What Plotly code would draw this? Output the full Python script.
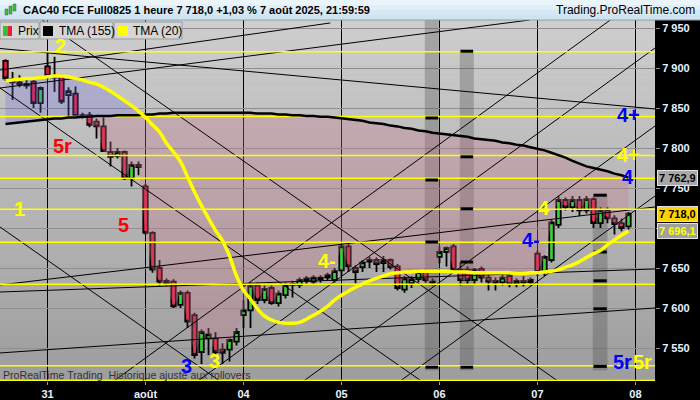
import plotly.graph_objects as go

# hourly bars; slot 0 = first bar of 31 July, 14 bars per session
slots = list(range(-6, 84))

opens = [7909, 7886, 7882, 7880, 7883, 7856,
         7902, 7890, 7890, 7866, 7868, 7841, 7841, 7833, 7827, 7795, 7790, 7795, 7762, 7779,
         7752, 7694, 7650, 7634, 7633, 7604, 7619, 7591, 7545, 7562, 7562, 7548, 7548, 7558,
         7591, 7597, 7628, 7610, 7625, 7606, 7616, 7629, 7629, 7634, 7633, 7636, 7638, 7635,
         7647, 7677, 7650, 7651, 7658, 7660, 7656, 7660, 7652, 7623, 7631, 7636, 7645, 7633,
         7664, 7670, 7677, 7648, 7648, 7635, 7649, 7638, 7634, 7632, 7640, 7630, 7634, 7632,
         7668, 7645, 7660, 7704, 7735, 7726, 7735, 7722, 7736, 7706, 7722, 7712, 7706, 7702]
highs = [7911, 7895, 7891, 7886, 7886, 7877,
         7920, 7914, 7892, 7876, 7877, 7844, 7845, 7837, 7840, 7808, 7800, 7797, 7783, 7783,
         7755, 7696, 7660, 7637, 7636, 7622, 7622, 7594, 7573, 7575, 7570, 7556, 7562, 7575,
         7610, 7632, 7632, 7628, 7628, 7622, 7632, 7634, 7638, 7640, 7641, 7641, 7644, 7650,
         7680, 7680, 7653, 7660, 7664, 7663, 7665, 7662, 7655, 7640, 7640, 7648, 7648, 7637,
         7677, 7677, 7680, 7657, 7652, 7650, 7652, 7642, 7638, 7642, 7643, 7637, 7640, 7638,
         7672, 7666, 7710, 7740, 7738, 7740, 7740, 7740, 7738, 7726, 7726, 7716, 7712, 7720]
lows = [7884, 7860, 7876, 7874, 7850, 7844,
        7886, 7870, 7855, 7839, 7839, 7837, 7826, 7812, 7795, 7777, 7787, 7760, 7752, 7766,
        7692, 7644, 7628, 7628, 7600, 7600, 7575, 7537, 7530, 7541, 7540, 7530, 7533, 7553,
        7575, 7575, 7605, 7606, 7604, 7602, 7612, 7613, 7625, 7630, 7630, 7632, 7634, 7632,
        7640, 7645, 7631, 7645, 7650, 7645, 7645, 7648, 7622, 7619, 7625, 7632, 7632, 7628,
        7656, 7652, 7645, 7628, 7630, 7630, 7632, 7622, 7622, 7628, 7626, 7626, 7627, 7628,
        7640, 7640, 7657, 7700, 7722, 7720, 7715, 7718, 7700, 7700, 7706, 7692, 7696, 7698]
closes = [7887, 7882, 7880, 7878, 7856, 7875,
          7890, 7888, 7858, 7871, 7840, 7839, 7829, 7827, 7796, 7789, 7795, 7762, 7779, 7776,
          7694, 7648, 7633, 7631, 7602, 7619, 7583, 7541, 7570, 7567, 7545, 7544, 7560, 7570,
          7597, 7628, 7610, 7624, 7606, 7618, 7629, 7630, 7635, 7637, 7638, 7638, 7641, 7646,
          7677, 7652, 7645, 7657, 7660, 7655, 7660, 7651, 7625, 7637, 7636, 7645, 7635, 7632,
          7670, 7675, 7648, 7635, 7635, 7648, 7638, 7633, 7632, 7638, 7630, 7634, 7632, 7635,
          7645, 7664, 7707, 7735, 7726, 7735, 7722, 7736, 7706, 7722, 7712, 7705, 7700, 7718]

tma155 = [7830, 7831, 7832, 7833, 7834, 7835,
          7836, 7837, 7837, 7838, 7838, 7839, 7839, 7840, 7840, 7840, 7841, 7841, 7841, 7841,
          7842, 7842, 7843, 7843, 7844, 7844, 7844, 7844, 7844, 7844, 7844, 7844, 7844, 7844,
          7844, 7844, 7843, 7843, 7843, 7842, 7842, 7841, 7841, 7840, 7840, 7839, 7839, 7838,
          7837, 7836, 7835, 7834, 7832, 7831, 7830, 7828, 7827, 7825, 7824, 7822, 7821, 7819,
          7818, 7817, 7816, 7815, 7814, 7812, 7811, 7810, 7809, 7807, 7806, 7804, 7803, 7801,
          7799, 7797, 7794, 7791, 7788, 7784, 7780, 7777, 7775, 7773, 7771, 7768, 7766, 7762.9]
tma20 = [7884, 7885, 7886, 7887, 7887, 7888,
         7889, 7890, 7890, 7889, 7887, 7885, 7882, 7880, 7876, 7871, 7865, 7859, 7853, 7846,
         7838, 7829, 7820, 7806, 7795, 7783, 7764, 7745, 7728, 7712, 7697, 7684, 7665, 7640,
         7622, 7611, 7599, 7590, 7585, 7582, 7581, 7581, 7582, 7586, 7591, 7596, 7602, 7610,
         7616, 7621, 7626, 7630, 7634, 7637, 7640, 7643, 7644, 7645, 7645, 7646, 7646, 7646,
         7646, 7646, 7645, 7645, 7645, 7644, 7644, 7644, 7644, 7644, 7644, 7643, 7643, 7644,
         7644, 7645, 7646, 7648, 7651, 7654, 7658, 7663, 7668, 7672, 7679, 7685, 7691, 7696.1]

day_ticks = [0, 14, 28, 42, 56, 70, 84]
day_labels = ["31", "août", "04", "05", "06", "07", "08"]
price_ticks = [7550, 7600, 7650, 7700, 7750, 7800, 7850, 7900, 7950]
price_labels = ["7 550", "7 600", "7 650", "7 700", "7 750", "7 800", "7 850", "7 900", "7 950"]

x_range = [-6.79, 86.79]
y_range = [7508.75, 7960]

# horizontal levels (yellow)
levels = [7920.4, 7839.4, 7790.6, 7762.1, 7723.4, 7682.1, 7629.6, 7527.9, 7509.5]

# trend lines: (slot0, price0, slot1, price1)
trend_lines = [
    (-6.79, 7924.4, 86.79, 7848.8),
    (-6.79, 7875.0, 68.9, 7960.0),
    (-6.79, 7897.5, 40.4, 7956.3),
    (-6.79, 7875.0, 53.4, 7508.8),
    (-0.79, 7960.0, 72.9, 7508.8),
    (-6.79, 7701.3, 24.6, 7508.8),
    (-6.79, 7620.0, 86.79, 7648.8),
    (-6.79, 7543.8, 86.79, 7600.0),
    (-6.79, 7628.8, 86.79, 7726.3),
    (9.5, 7508.8, 80.4, 7960.0),
    (21.5, 7508.8, 86.79, 7925.0),
    (36.6, 7508.8, 86.79, 7827.5),
    (50.4, 7508.8, 86.79, 7740.0),
]

# shaded columns with their black marks
band_left = [53.9, 58.9, 77.9]
band_right = [55.9, 60.9, 80.0]
band_top = [7960, 7922, 7741]
band_bottom = [7522, 7522, 7522]
band_marks = [[7837.5, 7760, 7682.5, 7526],
              [7921, 7789, 7724, 7657.5, 7526],
              [7741, 7670, 7634, 7599, 7527]]

# wave labels: text, slot, price, colour
wave_labels = [
    ("2", 1.9, 7927, "#ffff00"),
    ("5r", 2.1, 7802, "#ff0000"),
    ("1", -4.0, 7724, "#ffff00"),
    ("5", 10.9, 7704, "#ff0000"),
    ("3", 19.9, 7527, "#0000ff"),
    ("3", 23.9, 7534, "#ffff00"),
    ("4-", 39.9, 7659, "#ffff00"),
    ("4", 70.9, 7725, "#ffff00"),
    ("4-", 69.1, 7685, "#0000ff"),
    ("4+", 83.0, 7841, "#0000ff"),
    ("4+", 83.0, 7791, "#ffff00"),
    ("4", 83.0, 7764, "#0000ff"),
    ("5r", 82.1, 7532, "#0000ff"),
    ("5r", 85.0, 7532, "#ffff00"),
]

PW, PH = 655, 361


def px(x):
    return x / PW


def py(y):
    return (381 - y) / PH


fig = go.Figure()

# lavender zone while TMA(20) is above TMA(155)
cut = slots.index(13)
fig.add_trace(go.Scatter(x=slots[:cut + 1], y=tma155[:cut + 1], mode="lines",
                         line=dict(width=0), hoverinfo="skip", showlegend=False))
fig.add_trace(go.Scatter(x=slots[:cut + 1], y=tma20[:cut + 1], mode="lines",
                         line=dict(width=0), fill="tonexty",
                         fillcolor="rgba(110,110,220,0.28)", hoverinfo="skip", showlegend=False))
# pink zone while the close is under TMA(155)
start = slots.index(5)
fig.add_trace(go.Scatter(x=slots[start:], y=tma155[start:], mode="lines",
                         line=dict(width=0), hoverinfo="skip", showlegend=False))
fig.add_trace(go.Scatter(x=slots[start:], y=closes[start:], mode="lines",
                         line=dict(width=0), fill="tonexty",
                         fillcolor="rgba(200,120,140,0.32)", hoverinfo="skip", showlegend=False))

# trend lines
tx, ty = [], []
for s0, p0, s1, p1 in trend_lines:
    tx += [s0, s1, None]
    ty += [p0, p1, None]
fig.add_trace(go.Scatter(x=tx, y=ty, mode="lines", line=dict(color="black", width=1),
                         hoverinfo="skip", showlegend=False))

# yellow levels
lx, ly = [], []
for lv in levels:
    lx += [x_range[0], x_range[1], None]
    ly += [lv, lv, None]
fig.add_trace(go.Scatter(x=lx, y=ly, mode="lines", line=dict(color="#ffff00", width=1.5),
                         hoverinfo="skip", showlegend=False))

# band marks
mx, my = [], []
for b0, b1, marks in zip(band_left, band_right, band_marks):
    for m in marks:
        mx += [b0 + 0.1, b1 - 0.1, None]
        my += [m, m, None]
fig.add_trace(go.Scatter(x=mx, y=my, mode="lines", line=dict(color="black", width=3),
                         hoverinfo="skip", showlegend=False))

fig.add_trace(go.Candlestick(
    x=slots, open=opens, high=highs, low=lows, close=closes,
    increasing=dict(line=dict(color="black", width=1.8), fillcolor="#3ad23a"),
    decreasing=dict(line=dict(color="black", width=1.8), fillcolor="#f0183f"),
    whiskerwidth=0, showlegend=False, name="Prix"))

fig.add_trace(go.Scatter(x=slots, y=tma155, mode="lines", name="TMA (155)",
                         line=dict(color="black", width=2.5), showlegend=False))
fig.add_trace(go.Scatter(x=slots, y=tma20, mode="lines", name="TMA (20)",
                         line=dict(color="#ffff00", width=3.5, shape="spline"), showlegend=False))

shapes = []
# vertical gradient background
top_c, bot_c = (206, 206, 206), (158, 158, 158)
n = 40
for i in range(n):
    t = i / (n - 1)
    c = tuple(int(top_c[k] + (bot_c[k] - top_c[k]) * t) for k in range(3))
    shapes.append(dict(type="rect", xref="paper", yref="paper", x0=0, x1=1,
                       y0=1 - (i + 1) / n, y1=1 - i / n, line=dict(width=0),
                       fillcolor="rgb(%d,%d,%d)" % c, layer="below"))
for b0, b1, bt, bb in zip(band_left, band_right, band_top, band_bottom):
    shapes.append(dict(type="rect", xref="x", yref="y", x0=b0, x1=b1, y0=bb, y1=bt,
                       line=dict(width=0), fillcolor="rgba(60,60,60,0.28)", layer="between"))

# title bar
for i, col in enumerate(["#eaf4fb", "#e0eef8", "#d6e8f4", "#cfe3f1"]):
    shapes.append(dict(type="rect", xref="paper", yref="paper", x0=0, x1=700 / PW,
                       y0=py(5 * (i + 1)), y1=py(5 * i), line=dict(width=0), fillcolor=col))
shapes.append(dict(type="line", xref="paper", yref="paper", x0=0, x1=700 / PW,
                   y0=py(20), y1=py(20), line=dict(color="#8aa0b4", width=1)))
# title icon
for x0, y0, y1 in [(5, 9, 15), (9, 6, 14), (13, 4, 11)]:
    shapes.append(dict(type="rect", xref="paper", yref="paper", x0=px(x0), x1=px(x0 + 3),
                       y0=py(y1), y1=py(y0), line=dict(color="#3a6a3a", width=0.5),
                       fillcolor="#3cc03c"))

# legend boxes
for x0, x1 in [(0, 39), (40, 113), (114, 182)]:
    shapes.append(dict(type="rect", xref="paper", yref="paper", x0=px(x0), x1=px(x1),
                       y0=py(39), y1=py(22), line=dict(color="#9a9a9a", width=1),
                       fillcolor="#d6d6d6"))
for x0, x1, col in [(3, 7.5, "#33c033"), (7.5, 12, "#f0183f"), (43, 53, "black"), (118, 128, "#ffff00")]:
    shapes.append(dict(type="rect", xref="paper", yref="paper", x0=px(x0), x1=px(x1),
                       y0=py(36), y1=py(26), line=dict(width=0), fillcolor=col))

annotations = []
for txt, s, p, col in wave_labels:
    annotations.append(dict(x=s, y=p, xref="x", yref="y", text="<b>%s</b>" % txt,
                            showarrow=False, font=dict(size=20, color=col,
                                                       family="Liberation Sans, Arial")))

title_font = dict(family="Liberation Sans, Arial", size=12, color="black")
annotations += [
    dict(x=px(21), y=py(10), xref="paper", yref="paper", xanchor="left", yanchor="middle",
         showarrow=False, font=dict(family="Liberation Sans, Arial", size=11, color="black",
                                    weight="bold"),
         text="CAC40 FCE Full0825 1 heure 7 718,0 +1,03 % 7 août 2025, 21:59:59"),
    dict(x=px(697), y=py(10), xref="paper", yref="paper", xanchor="right", yanchor="middle",
         showarrow=False, font=title_font, text="Trading.ProRealTime.com"),
    dict(x=px(16), y=py(30.5), xref="paper", yref="paper", xanchor="left", yanchor="middle",
         showarrow=False, font=title_font, text="Prix"),
    dict(x=px(57), y=py(30.5), xref="paper", yref="paper", xanchor="left", yanchor="middle",
         showarrow=False, font=title_font, text="TMA (155)"),
    dict(x=px(131), y=py(30.5), xref="paper", yref="paper", xanchor="left", yanchor="middle",
         showarrow=False, font=title_font, text="TMA (20)"),
    dict(x=px(1), y=py(375), xref="paper", yref="paper", xanchor="left", yanchor="middle",
         showarrow=False, font=dict(family="Liberation Sans, Arial", size=10.6, color="#333333"),
         text="ProRealTime Trading  Historique ajusté aux rollovers"),
]

# last values on the price scale
for val, txt, bg, fg in [(tma155[-1], "7 762,9", "#a8a8a8", "black"),
                         (closes[-1], "7 718,0", "#ffd200", "black"),
                         (tma20[-1], "7 696,1", "#a0a0a0", "#ffff00")]:
    annotations.append(dict(x=px(657), y=val, xref="paper", yref="y", xanchor="left",
                            yanchor="middle", showarrow=False, text="<b>%s</b>" % txt,
                            font=dict(family="Liberation Sans, Arial", size=11, color=fg),
                            bgcolor=bg, bordercolor="#e0e0e0", borderwidth=1, borderpad=1))

axis_font = dict(family="Liberation Sans, Arial", size=11, color="#e6f2ff", weight="bold")
fig.update_layout(
    width=700, height=400, autosize=False,
    margin=dict(l=0, r=45, t=20, b=19, pad=0),
    paper_bgcolor="black", plot_bgcolor="#b8b8b8",
    boxgap=0.2, boxgroupgap=0.2,
    shapes=shapes, annotations=annotations,
    showlegend=False,
    xaxis=dict(range=x_range, tickvals=day_ticks, ticktext=day_labels,
               showgrid=True, gridcolor="black", gridwidth=1, zeroline=False,
               ticks="outside", ticklen=3, tickcolor="#9a9a9a", tickfont=axis_font,
               rangeslider=dict(visible=False), showline=False, fixedrange=True),
    yaxis=dict(range=y_range, side="right", tickvals=price_ticks, ticktext=price_labels,
               showgrid=True, gridcolor="#8e8e8e", gridwidth=1, zeroline=False,
               ticks="outside", ticklen=4, tickcolor="#9a9a9a", tickfont=axis_font,
               showline=False, fixedrange=True),
)

fig.write_html("out.html", config={"displayModeBar": False},
               post_script="document.body.style.margin='0';")
